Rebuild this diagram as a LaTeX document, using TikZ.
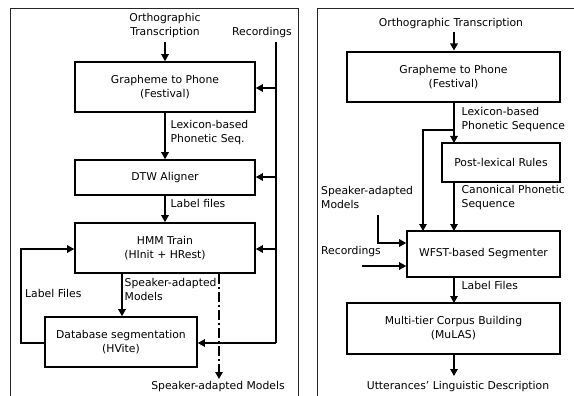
\documentclass[tikz,border=0pt]{standalone}
\usepackage{fontspec}
\setmainfont{DejaVu Sans}
\usetikzlibrary{arrows.meta}
\begin{document}
\begin{tikzpicture}[x=1pt,y=-1pt,
  every node/.style={font=\fontsize{10.8}{14}\selectfont},
  box/.style={draw,line width=1.6pt,inner sep=0pt,align=center},
  lbl/.style={inner sep=0pt,align=left,anchor=north west},
  txt/.style={inner sep=0pt,align=center},
  flow/.style={line width=1.4pt,-{Triangle[width=7.5pt,length=7pt]}},
  frame/.style={line width=0.9pt,draw=black!85}]
\useasboundingbox (0,0) rectangle (574,396);
% frames
\draw[frame] (10,396) -- (10,8) -- (298,8) -- (298,396);
\draw[frame] (317,396) -- (317,8) -- (574,8);

% ---------- left panel ----------
\node[txt] (orthL) at (165,26) {Orthographic\\Transcription};
\node[txt,anchor=west] (recL) at (232,33) {Recordings};
\node[box,minimum width=180pt,minimum height=50pt] (g2pL) at (165,87) {Grapheme to Phone\\(Festival)};
\node[box,minimum width=180pt,minimum height=35pt] (dtw) at (165,177.5) {DTW Aligner};
\node[box,minimum width=180pt,minimum height=50pt] (hmm) at (165,248) {HMM Train\\(HInit + HRest)};
\node[box,minimum width=152pt,minimum height=50pt] (dbs) at (121,342) {Database segmentation\\(HVite)};
\node[txt] (samL) at (218,387) {Speaker-adapted Models};

\coordinate (rtop) at (276,42);
\coordinate (rbot) at (276,343);
\draw[line width=1.4pt] (rtop) -- (rbot);
\draw[flow] (276,88) -- (g2pL.east |- 0,88);
\draw[flow] (276,177) -- (dtw.east |- 0,177);
\draw[flow] (276,249) -- (hmm.east |- 0,249);
\draw[flow] (rbot) -- (dbs.east |- rbot);

\draw[flow] (orthL.south |- 0,42) -- (g2pL.north);
\draw[flow] (g2pL.south) -- node[lbl,pos=0.1,xshift=5pt,yshift=-2pt]{Lexicon-based\\Phonetic Seq.} (dtw.north);
\draw[flow] (dtw.south) -- node[lbl,pos=0.05,xshift=5pt,yshift=-1pt]{Label files} (hmm.north);
\draw[flow] (hmm.south -| 122,0) -- node[lbl,pos=0.0,xshift=2pt,yshift=-4pt]{Speaker-adapted\\Models} (dbs.north -| 122,0);
\draw[line width=1.4pt,dash pattern=on 10pt off 3pt on 2pt off 3pt,-{Triangle[width=7.5pt,length=7pt]}] (hmm.south -| 219,0) -- (219,379);
\coordinate (fbl) at (21,343);
\coordinate (fbt) at (21,249);
\draw[flow] (dbs.west |- fbl) -- (fbl) -- (fbt) -- (hmm.west |- fbt);
\node[lbl] (lfL) at (25,289) {Label Files};

% ---------- right panel ----------
\node[txt] (orthR) at (451,24) {Orthographic Transcription};
\node[box,minimum width=213pt,minimum height=50pt] (g2pR) at (453.5,77) {Grapheme to Phone\\(Festival)};
\node[box,minimum width=118pt,minimum height=39pt] (plr) at (501,162.5) {Post-lexical Rules};
\node[box,minimum width=153pt,minimum height=46pt] (wfst) at (483.5,254) {WFST-based Segmenter};
\node[box,minimum width=213pt,minimum height=51pt] (mtc) at (453.5,328.5) {Multi-tier Corpus Building\\(MuLAS)};
\node[txt] (uld) at (458,387) {Utterances' Linguistic Description};
\node[lbl] (samR) at (321,186) {Speaker-adapted\\Models};
\node[lbl] (recR) at (321,246) {Recordings};

\draw[flow] (454,32) -- (454,50.5);
\draw[flow] (454,102) -- node[lbl,pos=0.1,xshift=7pt,yshift=0pt]{Lexicon-based\\Phonetic Sequence} (454,143);
\coordinate (br) at (454,130);
\coordinate (bl) at (423,130);
\draw[flow] (br) -- (bl) -- (423,231);
\draw[flow] (454,182) -- node[lbl,pos=0.05,xshift=7pt,yshift=0pt]{Canonical Phonetic\\Sequence} (454,231);
\coordinate (sa1) at (378,215);
\coordinate (sa2) at (378,243);
\draw[flow] (sa1) -- (sa2) -- (wfst.west |- sa2);
\coordinate (rc) at (362,266);
\draw[flow] (rc) -- (wfst.west |- rc);
\draw[flow] (454,277) -- node[lbl,pos=0.1,xshift=7pt,yshift=-1pt]{Label Files} (454,303);
\draw[flow] (454,354) -- (454,376);
\end{tikzpicture}
\end{document}
